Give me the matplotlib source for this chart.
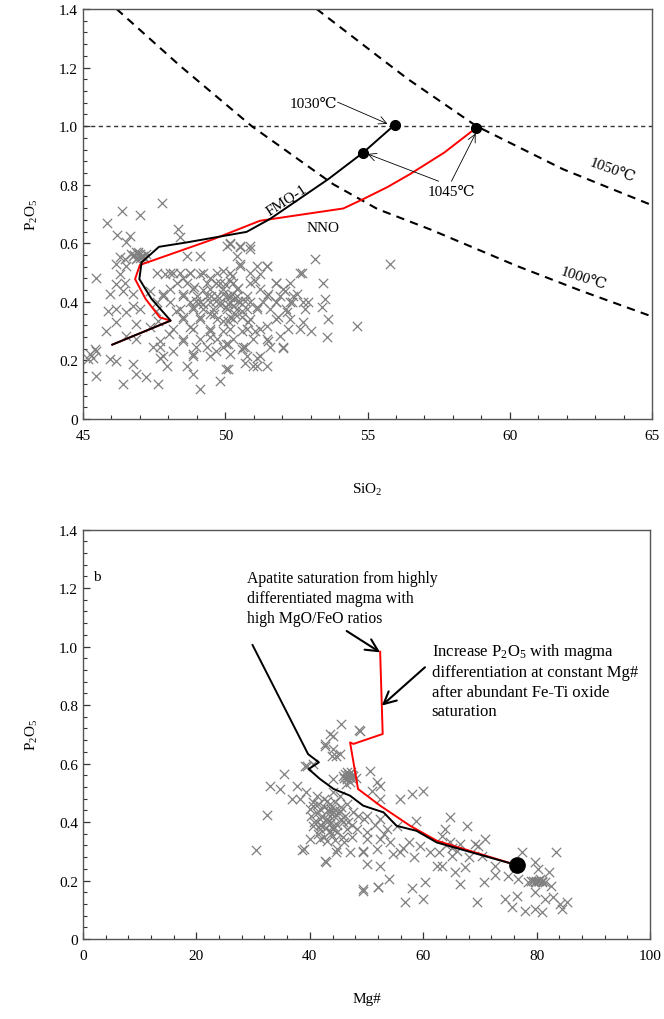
import numpy as np
import matplotlib
matplotlib.use("Agg")
import matplotlib.pyplot as plt
from matplotlib.ticker import MultipleLocator, FuncFormatter

plt.rcParams['font.family'] = ['Liberation Serif', 'DejaVu Serif']
plt.rcParams['mathtext.fontset'] = 'stix'
plt.rcParams['mathtext.default'] = 'regular'

# ---- panel a: SiO2 vs P2O5 ----
si_x = [47.78, 46.37, 46.99, 45.84, 46.21, 46.64, 48.34, 48.40, 46.52, 46.76, 46.93, 47.11, 46.99, 47.22,
        46.87, 46.29, 46.46, 46.17, 46.52, 46.29, 45.47, 46.46, 46.17, 46.41, 45.94, 46.76, 47.34, 47.87,
        48.16, 48.51, 48.75, 49.10, 49.45, 49.92, 49.68, 50.15, 47.81, 48.51, 48.98, 49.22, 48.86, 49.68,
        49.92, 50.04, 46.76, 46.99, 45.88, 46.17, 46.52, 47.58, 48.28, 48.51, 49.10, 49.45, 49.92, 50.15,
        46.17, 46.87, 47.34, 47.63, 48.04, 48.75, 49.45, 49.92, 45.82, 46.52, 46.87, 47.69, 47.46, 48.51,
        48.98, 49.45, 50.04, 45.47, 45.35, 45.18, 45.94, 46.17, 46.76, 47.69, 48.16, 48.86, 49.68, 50.15,
        45.47, 46.41, 46.87, 47.22, 47.63, 48.86, 49.10, 49.80, 50.04, 45.23, 45.41,
        50.17, 50.52, 50.87, 53.15, 50.52, 51.45, 52.68, 51.22, 50.22, 51.04, 51.80, 53.44, 49.99, 50.46,
        52.10, 51.51, 52.51, 53.50, 50.17, 50.69, 51.80, 52.33, 52.92, 50.28, 51.10, 52.80, 53.39, 52.16,
        51.86, 53.62, 54.62, 50.11, 50.81, 51.45, 52.74, 53.03, 51.04, 52.21, 50.58, 51.51, 51.92, 53.56,
        50.69, 50.58, 52.04, 50.11, 51.10, 50.69, 50.99, 51.45, 50.11, 50.22, 50.46, 50.11, 50.34, 50.58,
        55.79, 49.50, 49.80, 50.30, 49.20, 48.90, 50.60, 49.60,
        # denser core of the cloud
        50.05, 50.52, 50.87, 50.16, 48.64, 49.11, 50.40, 50.52, 51.10, 51.45,
        47.59, 48.06, 48.41, 48.76, 49.23, 49.70, 50.16, 50.87, 52.62,
        48.29, 48.64, 49.35, 49.81, 50.28, 50.87, 51.80, 52.27,
        48.06, 48.88, 49.46, 49.93, 50.40, 51.22, 52.04,
        47.82, 48.53, 48.99, 49.35, 49.70, 50.05, 50.40, 50.75, 51.45, 51.92, 52.39,
        47.59, 48.06, 48.76, 49.11, 49.46, 49.81, 50.16, 50.52, 50.87, 51.33, 51.80, 52.27, 52.74,
        48.41, 48.88, 49.23, 49.58, 50.05, 50.40, 50.75, 51.10, 51.57, 52.15,
        48.53, 49.11, 49.70, 50.28, 50.87, 51.80, 52.27,
        48.17, 48.88, 49.46, 50.16, 50.75, 51.22, 52.62,
        48.53, 49.11, 49.70, 50.28, 50.98, 51.45,
        47.71, 49.35, 49.93, 50.63, 51.57, 52.04,
        47.82, 48.88, 49.46, 50.75, 51.22,
        47.94, 48.64, 51.10,
        # blob near the curve bend
        46.80, 46.90, 47.00, 47.05, 46.85, 47.15, 46.70, 46.95]
si_p = [0.737, 0.709, 0.697, 0.668, 0.629, 0.626, 0.648, 0.622, 0.603, 0.557, 0.563, 0.557, 0.549, 0.563,
        0.569, 0.552, 0.546, 0.529, 0.523, 0.495, 0.483, 0.466, 0.461, 0.438, 0.427, 0.427, 0.438, 0.495,
        0.500, 0.483, 0.500, 0.495, 0.483, 0.506, 0.466, 0.472, 0.427, 0.427, 0.404, 0.392, 0.381, 0.404,
        0.427, 0.381, 0.387, 0.375, 0.370, 0.375, 0.364, 0.370, 0.370, 0.347, 0.347, 0.358, 0.336, 0.347,
        0.330, 0.324, 0.313, 0.336, 0.290, 0.313, 0.301, 0.301, 0.301, 0.284, 0.273, 0.267, 0.245, 0.267,
        0.245, 0.279, 0.256, 0.233, 0.210, 0.205, 0.205, 0.199, 0.188, 0.210, 0.233, 0.222, 0.233, 0.222,
        0.148, 0.119, 0.154, 0.142, 0.119, 0.154, 0.102, 0.131, 0.171, 0.222, 0.239,
        0.597, 0.586, 0.580, 0.546, 0.529, 0.523, 0.500, 0.495, 0.489, 0.472, 0.466, 0.466, 0.461, 0.449,
        0.438, 0.427, 0.427, 0.410, 0.415, 0.404, 0.398, 0.398, 0.398, 0.387, 0.381, 0.375, 0.381, 0.364,
        0.347, 0.341, 0.319, 0.336, 0.330, 0.319, 0.330, 0.301, 0.301, 0.307, 0.301, 0.267, 0.284, 0.279,
        0.245, 0.239, 0.242, 0.256, 0.210, 0.193, 0.182, 0.182, 0.171, 0.427, 0.404, 0.392, 0.358, 0.370,
        0.529, 0.420, 0.390, 0.410, 0.440, 0.450, 0.350, 0.360,
        0.590, 0.590, 0.590, 0.600, 0.557, 0.557, 0.557, 0.523, 0.523, 0.523,
        0.500, 0.500, 0.500, 0.500, 0.500, 0.500, 0.500, 0.500, 0.500,
        0.466, 0.466, 0.466, 0.466, 0.466, 0.466, 0.466, 0.466,
        0.444, 0.444, 0.444, 0.444, 0.444, 0.444, 0.444,
        0.421, 0.421, 0.421, 0.421, 0.421, 0.421, 0.421, 0.421, 0.421, 0.421, 0.421,
        0.398, 0.398, 0.398, 0.398, 0.398, 0.398, 0.398, 0.398, 0.398, 0.398, 0.398, 0.398, 0.398,
        0.375, 0.375, 0.375, 0.375, 0.375, 0.375, 0.375, 0.375, 0.375, 0.375,
        0.341, 0.341, 0.341, 0.341, 0.341, 0.341, 0.341,
        0.307, 0.307, 0.307, 0.307, 0.307, 0.307, 0.307,
        0.273, 0.273, 0.273, 0.273, 0.273, 0.273,
        0.245, 0.245, 0.245, 0.245, 0.245, 0.245,
        0.216, 0.216, 0.216, 0.216, 0.216,
        0.182, 0.182, 0.182,
        0.560, 0.550, 0.565, 0.555, 0.545, 0.550, 0.565, 0.572]

fmq_si = [46.03, 48.08, 47.41, 46.98, 47.06, 47.67, 48.64, 50.75, 51.57, 53.62, 54.85, 55.96]
fmq_p = [0.254, 0.336, 0.410, 0.478, 0.535, 0.588, 0.603, 0.639, 0.683, 0.819, 0.910, 1.005]
nno_si = [46.03, 48.08, 47.70, 47.20, 46.83, 47.00, 49.58, 51.22, 54.15, 54.85, 55.70, 56.49, 57.70, 58.83]
nno_p = [0.254, 0.336, 0.347, 0.410, 0.478, 0.526, 0.614, 0.677, 0.719, 0.751, 0.792, 0.836, 0.910, 0.995]

t1000_si = [46.18, 48.41, 50.93, 53.79, 55.35, 57.19, 60.24, 62.50, 65.0]
t1000_p = [1.40, 1.206, 1.000, 0.802, 0.717, 0.648, 0.523, 0.438, 0.350]
t1050_si = [53.21, 55.35, 56.43, 58.83, 61.87, 65.0]
t1050_p = [1.40, 1.24, 1.16, 1.00, 0.853, 0.730]

dot_si = [54.85, 55.96, 58.83]
dot_p = [0.910, 1.005, 0.995]

# ---- panel b: Mg# vs P2O5 ----
mg_x = [43.6, 48.9, 42.7, 44.1, 45.3, 43.9, 39.2, 40.6, 50.6, 44.1, 46.5, 45.9, 47.1, 47.7, 46.8, 51.8,
        50.9, 52.4, 39.4, 38.3, 41.2, 43.0, 44.1, 45.3, 52.4, 55.9, 58.0, 60.0, 41.8, 43.6, 40.0, 45.3,
        47.7, 50.0, 52.4, 41.8, 43.0, 44.1, 40.6, 41.8, 44.8, 46.5, 48.3, 50.0, 53.6, 55.3, 58.8, 50.0,
        52.4, 54.1, 40.0, 43.0, 38.9, 44.8, 47.1, 49.4, 51.8, 54.7, 55.9, 58.3, 61.2, 42.7, 50.0, 52.4,
        59.4, 62.4, 53.9, 60.3, 52.1, 49.3, 58.0, 56.8, 60.0,
        64.7, 63.8, 67.7, 63.3, 64.7, 66.5, 69.1, 70.9, 69.7, 62.7, 65.0, 68.0, 70.3, 63.3, 67.4, 65.6,
        72.7, 75.0, 77.4, 79.7, 80.3, 82.1, 83.5, 66.5, 70.8, 72.7, 76.8, 78.5, 79.7, 80.9, 81.5, 82.6,
        69.4, 74.4, 76.5, 75.6, 77.9, 79.7, 80.9, 82.9, 84.1, 85.3, 84.4, 79.7, 81.5,
        45.5, 48.7, 44.1, 42.7, 44.7, 39.5, 35.4, 33.0, 34.7, 37.7, 36.8, 32.5, 30.5, 38.7, 42.9, 49.3,
        52.0, 40.6, 43.0, 44.1, 41.8, 44.7, 49.4,
        42.5, 43.5, 44.5, 45.5, 42.0, 43.8, 45.8, 46.8, 46.2, 47.3,
        40.5, 41.5, 42.5, 43.5, 44.5, 45.5, 46.5,
        40.2, 41.2, 42.2, 43.2, 44.2, 45.2, 46.2, 48.5,
        40.8, 41.8, 42.8, 43.8, 44.8, 45.8, 47.5,
        41.5, 42.5, 43.5, 44.5, 46.0, 47.5,
        46.0, 46.6, 47.2, 46.3, 48.2,
        79.0, 80.2, 80.6, 65.0, 64.0, 66.0, 56.5, 57.5, 53.0, 51.5, 49.5,
        79.3, 79.8, 80.4, 81.0, 46.9, 47.4, 46.6, 43.7, 44.0]
mg_p = [0.700, 0.712, 0.667, 0.650, 0.632, 0.627, 0.593, 0.598, 0.576, 0.547, 0.547, 0.558, 0.536, 0.558,
        0.560, 0.536, 0.507, 0.524, 0.501, 0.479, 0.490, 0.473, 0.501, 0.490, 0.479, 0.479, 0.496, 0.507,
        0.444, 0.433, 0.444, 0.439, 0.433, 0.422, 0.410, 0.410, 0.399, 0.387, 0.387, 0.376, 0.365, 0.376,
        0.376, 0.365, 0.376, 0.387, 0.405, 0.342, 0.342, 0.330, 0.342, 0.336, 0.308, 0.308, 0.296, 0.296,
        0.308, 0.291, 0.296, 0.279, 0.296, 0.268, 0.256, 0.251, 0.319, 0.251, 0.205, 0.194, 0.177, 0.165,
        0.173, 0.128, 0.137,
        0.416, 0.376, 0.387, 0.353, 0.330, 0.325, 0.325, 0.342, 0.319, 0.296, 0.285, 0.279, 0.285, 0.251,
        0.245, 0.228, 0.251, 0.217, 0.296, 0.262, 0.239, 0.228, 0.296, 0.188, 0.194, 0.219, 0.205, 0.194,
        0.194, 0.194, 0.196, 0.182, 0.125, 0.137, 0.148, 0.108, 0.097, 0.103, 0.091, 0.142, 0.120, 0.125,
        0.103, 0.160, 0.137,
        0.735, 0.716, 0.695, 0.661, 0.627, 0.593, 0.564, 0.524, 0.513, 0.524, 0.479, 0.424, 0.305, 0.305,
        0.264, 0.170, 0.177, 0.456, 0.410, 0.376, 0.342, 0.296, 0.300,
        0.450, 0.420, 0.440, 0.410, 0.390, 0.360, 0.350, 0.400, 0.565, 0.572,
        0.470, 0.460, 0.480, 0.460, 0.470, 0.450, 0.460,
        0.420, 0.430, 0.420, 0.440, 0.420, 0.430, 0.420, 0.420,
        0.400, 0.390, 0.380, 0.400, 0.390, 0.400, 0.390,
        0.360, 0.350, 0.370, 0.340, 0.330, 0.350,
        0.550, 0.570, 0.550, 0.530, 0.550,
        0.200, 0.200, 0.205, 0.310, 0.320, 0.300, 0.310, 0.330, 0.360, 0.390, 0.410,
        0.200, 0.198, 0.200, 0.200, 0.565, 0.560, 0.550, 0.445, 0.435]

blk_mg = [29.9, 39.7, 41.6, 39.8, 41.8, 44.2, 47.1, 49.4, 53.0, 55.3, 58.8, 62.4, 76.6]
blk_p = [1.005, 0.632, 0.604, 0.581, 0.547, 0.513, 0.490, 0.456, 0.433, 0.387, 0.370, 0.330, 0.252]
red_mg = [52.4, 52.85, 47.7, 47.1, 48.5, 52.4, 57.7, 62.4, 76.6]
red_p = [0.982, 0.701, 0.667, 0.672, 0.513, 0.456, 0.387, 0.336, 0.252]

fig = plt.figure(figsize=(6.64, 10.2), dpi=100)
ax1 = fig.add_axes([0.125, 0.5882, 0.857, 0.402])
ax2 = fig.add_axes([0.125, 0.0784, 0.854, 0.4015])

deg = '\u2103'


def style(ax, xmin, xmax, xmajor, xminor):
    ax.set_xlim(xmin, xmax)
    ax.set_ylim(0, 1.4)
    ax.xaxis.set_major_locator(MultipleLocator(xmajor))
    ax.xaxis.set_minor_locator(MultipleLocator(xminor))
    ax.yaxis.set_major_locator(MultipleLocator(0.2))
    ax.yaxis.set_minor_locator(MultipleLocator(0.04))
    ax.yaxis.set_major_formatter(FuncFormatter(lambda v, p: '0' if abs(v) < 1e-9 else f'{v:.1f}'))
    ax.tick_params(which='both', direction='in', labelsize=11, colors='#333333', labelcolor='black')
    ax.tick_params(which='major', length=5, width=0.9)
    ax.tick_params(which='minor', length=3, width=0.8)
    ax.tick_params(axis='x', pad=7)
    for s in ax.spines.values():
        s.set_color('#555555')
        s.set_linewidth(1.0)


# panel a
style(ax1, 45, 65, 5, 1)
ax1.scatter(si_x, si_p, marker='x', s=45, c='#808080', linewidths=0.9, zorder=2)
ax1.axhline(1.0, color='#333333', lw=1.0, dashes=(3, 2.5), zorder=1)
ax1.plot(t1000_si, t1000_p, color='black', lw=1.5, dashes=(4, 3), zorder=1)
ax1.plot(t1050_si, t1050_p, color='black', lw=1.5, dashes=(4, 3), zorder=1)
ax1.plot(nno_si, nno_p, color='red', lw=1.4, zorder=3)
ax1.plot(fmq_si, fmq_p, color='black', lw=1.4, zorder=4)
ax1.plot(dot_si, dot_p, 'o', color='black', ms=7, zorder=5)

arrow = dict(arrowstyle='->', color='black', lw=0.6, mutation_scale=14, shrinkA=0, shrinkB=0)
ax1.text(53.1, 1.079, '1030' + deg, ha='center', va='center', fontsize=11)
ax1.annotate('', xy=(55.7, 1.008), xytext=(53.95, 1.082), arrowprops=arrow)
ax1.text(57.95, 0.778, '1045' + deg, ha='center', va='center', fontsize=11)
ax1.annotate('', xy=(55.0, 0.905), xytext=(57.5, 0.812), arrowprops=arrow)
ax1.annotate('', xy=(58.8, 0.975), xytext=(57.95, 0.812), arrowprops=arrow)
ax1.text(63.6, 0.85, '1050' + deg, ha='center', va='center', fontsize=11, rotation=-20)
ax1.text(62.6, 0.48, '1000' + deg, ha='center', va='center', fontsize=11, rotation=-18)
ax1.text(52.15, 0.75, 'FMQ-1', ha='center', va='center', fontsize=11, rotation=33)
ax1.text(53.44, 0.654, 'NNO', ha='center', va='center', fontsize=11)
ax1.set_xlabel('SiO$_2$', fontsize=11, labelpad=28)
ax1.set_ylabel('P$_2$O$_5$', fontsize=11, labelpad=14)

# panel b
style(ax2, 0, 100, 20, 4)
ax2.scatter(mg_x, mg_p, marker='x', s=45, c='#808080', linewidths=0.9, zorder=2)
ax2.plot(red_mg, red_p, color='red', lw=1.4, zorder=3)
ax2.plot(blk_mg, blk_p, color='black', lw=1.4, zorder=4)
ax2.plot([76.6], [0.252], 'o', color='black', ms=11, zorder=5)

big_arrow = dict(arrowstyle='->', color='black', lw=1.5, mutation_scale=22, shrinkA=0, shrinkB=0)
ax2.text(2.5, 1.24, 'b', fontsize=11, ha='center', va='center')
ax2.text(28.9, 1.26, 'Apatite saturation from highly\ndifferentiated magma with\nhigh MgO/FeO ratios',
         ha='left', va='top', fontsize=11.3, linespacing=1.3)
ax2.annotate('', xy=(52.4, 0.98), xytext=(46.5, 1.053), arrowprops=big_arrow)
ax2.text(61.5, 1.02, 'Increase P$_2$O$_5$ with magma\ndifferentiation at constant Mg#\n'
         'after abundant Fe-Ti oxide\nsaturation', ha='left', va='top', fontsize=12, linespacing=1.3)
ax2.annotate('', xy=(52.7, 0.798), xytext=(60.3, 0.929), arrowprops=big_arrow)
ax2.set_xlabel('Mg#', fontsize=11, labelpad=22)
ax2.set_ylabel('P$_2$O$_5$', fontsize=11, labelpad=14)

fig.savefig('out.png', dpi=100)
